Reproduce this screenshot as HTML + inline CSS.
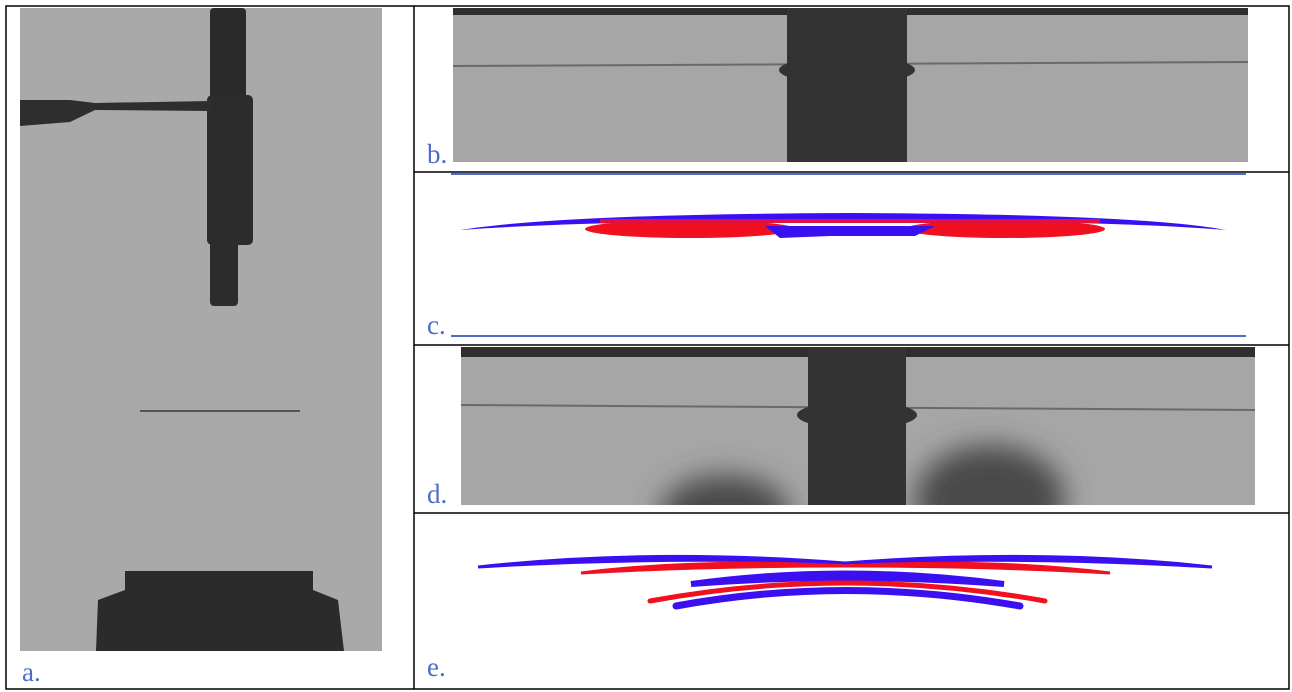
<!DOCTYPE html>
<html><head><meta charset="utf-8"><style>
html,body{margin:0;padding:0;background:#fff;width:1292px;height:692px;overflow:hidden}
text{font-family:"Liberation Serif",serif;fill:#4f6cc8;font-size:27px}
</style></head><body>
<svg width="1292" height="692" viewBox="0 0 1292 692">
<defs>
<clipPath id="cd"><rect x="461" y="347" width="794" height="158"/></clipPath>
<filter id="bl" x="-1" y="-1" width="3" height="3"><feGaussianBlur stdDeviation="14"/></filter>
</defs>
<g stroke="#000" stroke-width="1.5" fill="none">
<rect x="6" y="6" width="1283" height="683"/>
<line x1="414" y1="6" x2="414" y2="689"/>
<line x1="414" y1="172" x2="1289" y2="172"/>
<line x1="414" y1="345" x2="1289" y2="345"/>
<line x1="414" y1="513" x2="1289" y2="513"/>
</g>
<g>
<rect x="20" y="8" width="362" height="643" fill="#a9a9a9"/>
<rect x="210" y="8" width="36" height="90" rx="4" fill="#2a2a2a"/>
<rect x="207" y="95" width="46" height="150" rx="5" fill="#2c2c2c"/>
<rect x="210" y="240" width="28" height="66" rx="4" fill="#2c2c2c"/>
<path d="M20 100 L70 100 L95 103 L210 101 L210 111 L95 110 L70 122 L20 126 Z" fill="#2e2e2e"/>
<line x1="140" y1="411" x2="300" y2="411" stroke="#555" stroke-width="2"/>
<path d="M125 571 L313 571 L313 590 L338 600 L344 651 L96 651 L98 600 L125 590 Z" fill="#2b2b2b"/>
</g>
<text x="22" y="681">a.</text>
<g>
<rect x="453" y="8" width="795" height="154" fill="#a6a6a6"/>
<rect x="453" y="8" width="795" height="7" fill="#2e2e2e"/>
<line x1="453" y1="66" x2="1248" y2="62" stroke="#6a6a6a" stroke-width="2"/>
<rect x="787" y="8" width="120" height="154" fill="#333"/>
<ellipse cx="847" cy="70" rx="68" ry="14" fill="#333"/>
</g>
<text x="427" y="163">b.</text>
<g>
<line x1="451" y1="174" x2="1246" y2="174" stroke="#4f6cc8" stroke-width="2"/>
<line x1="451" y1="336" x2="1246" y2="336" stroke="#4f6cc8" stroke-width="2"/>
<path d="M460 230 Q560 214 850 213 Q1140 214 1226 230 Q1100 220 850 221 Q600 220 460 230 Z" fill="#3a10f0"/>
<ellipse cx="690" cy="229" rx="105" ry="9" fill="#f01020"/>
<ellipse cx="1005" cy="229" rx="100" ry="9" fill="#f01020"/>
<rect x="600" y="219" width="500" height="4" fill="#e01040"/>
<path d="M765 226 L935 226 L915 236 L870 236 L830 236 L780 238 Z" fill="#3a10f0"/>
</g>
<text x="427" y="334">c.</text>
<g>
<rect x="461" y="347" width="794" height="158" fill="#a6a6a6"/>
<rect x="461" y="347" width="794" height="10" fill="#2e2e2e"/>
<line x1="461" y1="405" x2="1255" y2="410" stroke="#6a6a6a" stroke-width="2"/>
<g clip-path="url(#cd)">
<ellipse cx="725" cy="515" rx="65" ry="40" fill="#4a4a4a" filter="url(#bl)"/>
<ellipse cx="990" cy="500" rx="75" ry="55" fill="#4a4a4a" filter="url(#bl)"/>
</g>
<rect x="808" y="347" width="98" height="158" fill="#333"/>
<ellipse cx="857" cy="415" rx="60" ry="14" fill="#333"/>
</g>
<text x="427" y="503">d.</text>
<g stroke-linecap="round">
<path d="M478 567 Q650 548 845 563 Q660 556 478 567 Z" fill="#3a10f0" stroke="#3a10f0" stroke-width="3"/>
<path d="M1212 567 Q1040 548 845 563 Q1030 556 1212 567 Z" fill="#3a10f0" stroke="#3a10f0" stroke-width="3"/>
<path d="M581 573 Q700 558 845 566 Q700 566 581 573 Z" fill="#f01020" stroke="#f01020" stroke-width="3"/>
<path d="M1110 573 Q990 558 845 566 Q990 566 1110 573 Z" fill="#f01020" stroke="#f01020" stroke-width="3"/>
<path d="M691 584 Q845 563 1004 584 Q845 572 691 584 Z" fill="#3a10f0" stroke="#3a10f0" stroke-width="6"/>
<path d="M650 601 Q845 565 1045 601" fill="none" stroke="#f01020" stroke-width="5"/>
<path d="M676 606 Q845 575 1020 606" fill="none" stroke="#3a10f0" stroke-width="7"/>
</g>
<text x="427" y="676">e.</text>
</svg>
</body></html>
